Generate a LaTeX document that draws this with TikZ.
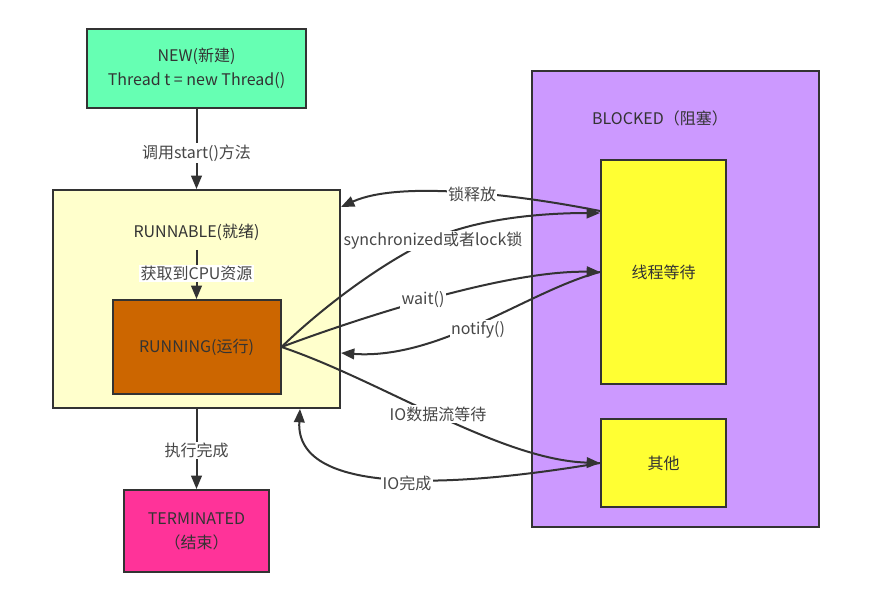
\documentclass[tikz,border=0pt]{standalone}
\usepackage{fontspec}
\setmainfont{Noto Sans CJK SC}
\usetikzlibrary{arrows.meta}
\definecolor{ln}{HTML}{333333}
\definecolor{newc}{HTML}{66FFB3}
\definecolor{runnablec}{HTML}{FFFFCC}
\definecolor{runningc}{HTML}{CC6600}
\definecolor{termc}{HTML}{FF3399}
\definecolor{blockc}{HTML}{CC99FF}
\definecolor{waitc}{HTML}{FFFF33}
\tikzset{
  box/.style={draw=ln, line width=1.5pt, text=ln, align=center, inner sep=0pt,
    font=\fontsize{12}{18}\selectfont},
  txt/.style={text=ln, inner sep=1pt, font=\fontsize{12}{18}\selectfont},
  lbl/.style={fill=white, text=ln!90, inner sep=1pt, font=\fontsize{12}{16}\selectfont},
  arr/.style={draw=ln, line width=1.5pt, -{Triangle[length=10pt,width=8pt]}},
}
\begin{document}
\begin{tikzpicture}[x=0.75pt,y=-0.75pt]
\useasboundingbox (0,0) rectangle (884,592);
% nodes
\node[box, fill=newc, minimum width=164.25pt, minimum height=59.25pt] (new) at (196.5,68.5) {NEW(新建)\\Thread t = new Thread()};
\node[box, fill=runnablec, minimum width=215.25pt, minimum height=163.5pt] (runnable) at (196.5,299) {};
\node[txt] (runnablelbl) at (196.5,232) {RUNNABLE(就绪)};
\node[box, fill=runningc, minimum width=126pt, minimum height=70.5pt] (running) at (196.5,347) {RUNNING(运行)};
\node[box, fill=termc, minimum width=108.75pt, minimum height=61.5pt] (term) at (196.5,531) {TERMINATED\\（结束）};
\node[box, fill=blockc, minimum width=215.25pt, minimum height=342pt] (blocked) at (675.5,299) {};
\node[txt] (blockedlbl) at (660,118) {BLOCKED（阻塞）};
\node[box, fill=waitc, minimum width=93.75pt, minimum height=168pt] (wt) at (663.5,272) {线程等待};
\node[box, fill=waitc, minimum width=93.75pt, minimum height=66pt] (other) at (663.5,463) {其他};
% vertical connectors
\draw[arr] (new) -- node[lbl, pos=0.55] {调用start()方法} (runnable);
\draw[arr, shorten <=6pt] (runnablelbl) -- node[lbl, pos=0.55] {获取到CPU资源} (running);
\draw[arr] (runnable) -- node[lbl, pos=0.52] {执行完成} (term);
% curved connectors
\draw[arr] (wt.west |- 0,211) .. controls (520,195) and (400,180) .. (runnable.east |- 0,207);
\draw[arr] (running.east) .. controls (330,300) and (400,250) .. (450,232)
  .. controls (500,215) and (560,213) .. (wt.west |- 0,213);
\draw[arr] (running.east) .. controls (340,325) and (500,270) .. (wt.west);
\draw[arr] (wt.west) .. controls (530,290) and (440,360) .. (runnable.east |- 0,353);
\draw[arr] (running.east) .. controls (380,380) and (500,460) .. (other.west);
\draw[arr] (other.west) .. controls (470,485) and (295,500) .. (runnable.south -| 300,0);
% labels
\node[lbl] (llock) at (472,194) {锁释放};
\node[lbl] (lsync) at (433,241) {synchronized或者lock锁};
\node[lbl] (lwait) at (423,300) {wait()};
\node[lbl] (lnotify) at (478,330) {notify()};
\node[lbl] (liowait) at (438,414) {IO数据流等待};
\node[lbl] (liodone) at (407,483) {IO完成};
\end{tikzpicture}
\end{document}
